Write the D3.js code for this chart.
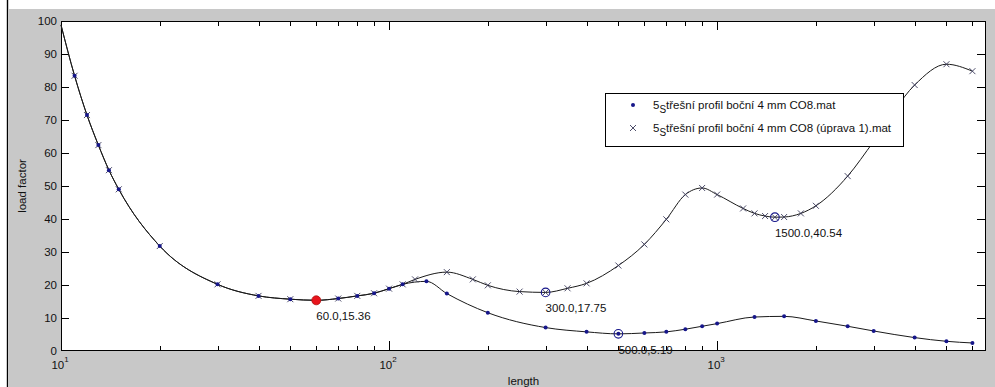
<!DOCTYPE html>
<html>
<head>
<meta charset="utf-8">
<script src="https://cdn.jsdelivr.net/npm/d3@7"></script>
<style>
  html, body { margin: 0; padding: 0; background: #ffffff; }
  svg { display: block; }
  text { font-family: "Liberation Sans", Arial, sans-serif; fill: #111; }
</style>
</head>
<body>
<svg id="chart" width="995" height="387"></svg>
<script>
// Load factor vs. length, two profile variants
const lengthsBase = [10, 11, 12, 13, 14, 15, 20, 30, 40, 50, 60, 70, 80, 90, 100, 110, 130, 150, 200, 300, 400, 500, 600, 700, 800, 900, 1000, 1300, 1600, 2000, 2500, 3000, 4000, 5000, 6000];
const factorsBase = [98.8, 83.4, 71.5, 62.4, 54.8, 49.0, 31.8, 20.2, 16.7, 15.7, 15.36, 15.9, 16.7, 17.5, 18.9, 20.2, 21.1, 17.4, 11.6, 7.1, 5.8, 5.19, 5.46, 5.8, 6.6, 7.5, 8.3, 10.3, 10.5, 9.1, 7.5, 6.07, 4.06, 2.94, 2.43];

const lengthsMod = [10, 11, 12, 13, 14, 15, 20, 30, 40, 50, 60, 70, 80, 90, 100, 110, 120, 150, 180, 200, 250, 300, 350, 400, 500, 600, 700, 800, 900, 1000, 1200, 1300, 1400, 1500, 1600, 1800, 2000, 2500, 3000, 4000, 5000, 6000];
const factorsMod = [98.8, 83.4, 71.5, 62.4, 54.8, 49.0, 31.8, 20.2, 16.7, 15.7, 15.36, 15.9, 16.7, 17.5, 18.9, 20.2, 21.7, 23.9, 21.7, 19.9, 18.0, 17.75, 19.0, 20.5, 25.9, 32.3, 39.9, 47.4, 49.4, 47.4, 43.2, 41.7, 40.9, 40.54, 40.6, 41.7, 44.0, 53.0, 63.5, 80.6, 86.9, 84.8];

const seriesNames = ["třešní profil boční 4 mm CO8.mat", "třešní profil boční 4 mm CO8 (úprava 1).mat"];

// data cursors: which series and at which length
const tipSeries = [0, 1, 0, 1];
const tipLengths = [60, 300, 500, 1500];

const yTicks = [0, 10, 20, 30, 40, 50, 60, 70, 80, 90, 100];
const xDecades = [1, 2, 3];

const svg = d3.select("#chart");
const W = 995, H = 387;
const plot = { left: 61, right: 986, top: 21, bottom: 351 };

const series = [
  { x: lengthsBase, y: factorsBase },
  { x: lengthsMod, y: factorsMod }
];

const x = d3.scaleLog().domain([10, 6600]).range([plot.left, plot.right]);
const y = d3.scaleLinear().domain([0, 100]).range([plot.bottom, plot.top]);

// figure background
svg.append("rect").attr("x", 0).attr("y", 0).attr("width", W).attr("height", H).attr("fill", "#ffffff");
svg.append("rect").attr("x", 9).attr("y", 9).attr("width", W - 9).attr("height", H - 9).attr("fill", "#c8c8c8");
svg.append("line").attr("x1", 7.5).attr("x2", 7.5).attr("y1", 0).attr("y2", H)
  .attr("stroke", "#000").attr("stroke-width", 1.4);

// axes area
svg.append("rect")
  .attr("x", plot.left).attr("y", plot.top)
  .attr("width", plot.right - plot.left).attr("height", plot.bottom - plot.top)
  .attr("fill", "#ffffff");

const ticksG = svg.append("g").attr("stroke", "#000").attr("stroke-width", 1);

// y ticks on both sides, pointing inward
yTicks.forEach(v => {
  const py = Math.round(y(v)) + 0.5;
  if (v > 0 && v < 100) {
    ticksG.append("line").attr("x1", plot.left).attr("x2", plot.left + 8).attr("y1", py).attr("y2", py);
    ticksG.append("line").attr("x1", plot.right - 9).attr("x2", plot.right).attr("y1", py).attr("y2", py);
  }
  svg.append("text")
    .attr("x", plot.left - 4).attr("y", y(v) + 4)
    .attr("text-anchor", "end").attr("font-size", 11.5)
    .text(v);
});

// x ticks: decades (major) and intermediate multiples (minor)
const minorVals = [];
xDecades.forEach(d => {
  for (let m = 2; m <= 9; m++) {
    const v = m * Math.pow(10, d);
    if (v < x.domain()[1]) minorVals.push(v);
  }
});
minorVals.forEach(v => {
  const px = Math.round(x(v)) + 0.5;
  ticksG.append("line").attr("x1", px).attr("x2", px).attr("y1", plot.bottom).attr("y2", plot.bottom - 5);
  ticksG.append("line").attr("x1", px).attr("x2", px).attr("y1", plot.top).attr("y2", plot.top + 5);
});
xDecades.forEach(d => {
  const v = Math.pow(10, d);
  const px = Math.round(x(v)) + 0.5;
  if (d > 1) {
    ticksG.append("line").attr("x1", px).attr("x2", px).attr("y1", plot.bottom).attr("y2", plot.bottom - 10);
    ticksG.append("line").attr("x1", px).attr("x2", px).attr("y1", plot.top).attr("y2", plot.top + 9);
  }
  const t = svg.append("text")
    .attr("x", x(v) - 1).attr("y", 369)
    .attr("text-anchor", "middle").attr("font-size", 11.5);
  t.append("tspan").text("10");
  t.append("tspan").attr("dy", -7).attr("font-size", 8).text(d);
});

// axes box
svg.append("rect")
  .attr("x", plot.left + 0.5).attr("y", plot.top + 0.5)
  .attr("width", plot.right - plot.left - 1).attr("height", plot.bottom - plot.top - 1)
  .attr("fill", "none").attr("stroke", "#000").attr("stroke-width", 1);

// axis titles
svg.append("text")
  .attr("x", (plot.left + plot.right) / 2).attr("y", 385)
  .attr("text-anchor", "middle").attr("font-size", 11.5)
  .text("length");
svg.append("text")
  .attr("transform", `translate(26,${(plot.top + plot.bottom) / 2}) rotate(-90)`)
  .attr("text-anchor", "middle").attr("font-size", 11.5)
  .text("load factor");

// curves
const lineGen = d3.line()
  .x(d => x(d[0])).y(d => y(d[1]))
  .curve(d3.curveMonotoneX);

const dataG = svg.append("g");
series.forEach(s => {
  const pts = s.x.map((v, i) => [v, s.y[i]]);
  dataG.append("path")
    .attr("d", lineGen(pts))
    .attr("fill", "none").attr("stroke", "#1a1a1a").attr("stroke-width", 1);
});

const dotColor = "#16168a";
const crossColor = "#3a3a5a";

function drawDot(g, px, py) {
  g.append("circle").attr("cx", px).attr("cy", py).attr("r", 2).attr("fill", dotColor);
}
function drawCross(g, px, py) {
  const r = 3;
  g.append("path")
    .attr("d", `M${px - r},${py - r}L${px + r},${py + r}M${px - r},${py + r}L${px + r},${py - r}`)
    .attr("stroke", crossColor).attr("stroke-width", 0.9).attr("fill", "none");
}

// markers (the curve start on the axis edge carries no marker)
series[1].x.forEach((v, i) => { if (i > 0) drawCross(dataG, x(v), y(series[1].y[i])); });
series[0].x.forEach((v, i) => { if (i > 0) drawDot(dataG, x(v), y(series[0].y[i])); });

// data cursors with their value labels
const fmtX = d3.format(".1f");
const fmtY = d3.format(".2f");
tipLengths.forEach((len, i) => {
  const s = series[tipSeries[i]];
  const idx = s.x.indexOf(len);
  const val = s.y[idx];
  const px = x(len), py = y(val);
  if (i === 0) {
    dataG.append("circle").attr("cx", px).attr("cy", py).attr("r", 4.5)
      .attr("fill", "#e8141c").attr("stroke", "#b01010").attr("stroke-width", 0.8);
  } else {
    dataG.append("circle").attr("cx", px).attr("cy", py).attr("r", 4.3)
      .attr("fill", "none").attr("stroke", dotColor).attr("stroke-width", 1.1);
  }
  svg.append("text")
    .attr("x", px).attr("y", py + 20)
    .attr("font-size", 11.5).attr("fill", "#222")
    .text(fmtX(len) + "," + fmtY(val));
});

// legend
const lg = svg.append("g");
const lx = 605, ly = 93, lw = 298, lh = 53;
lg.append("rect").attr("x", lx + 0.5).attr("y", ly + 0.5).attr("width", lw).attr("height", lh)
  .attr("fill", "#ffffff").attr("stroke", "#000").attr("stroke-width", 1);
const rowY = [ly + 12, ly + 35];
drawDot(lg, lx + 28, rowY[0]);
drawCross(lg, lx + 28, rowY[1]);
seriesNames.forEach((name, i) => {
  const t = lg.append("text").attr("x", lx + 48).attr("y", rowY[i] + 4).attr("font-size", 11.5);
  t.append("tspan").text("5");
  t.append("tspan").attr("dy", 4).attr("font-size", 10).text("S");
  t.append("tspan").attr("dy", -4).text(name);
});
</script>
</body>
</html>
